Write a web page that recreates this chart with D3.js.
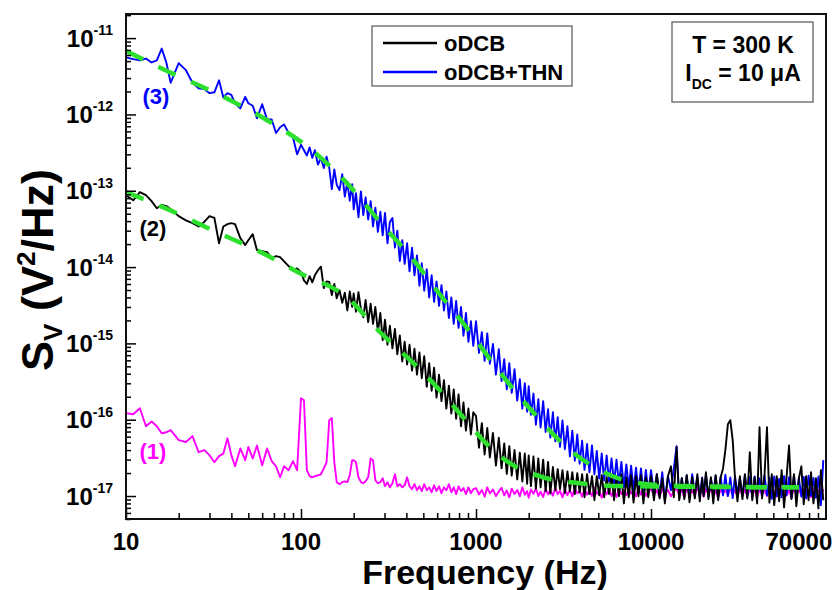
<!DOCTYPE html>
<html>
<head>
<meta charset="utf-8">
<script src="https://cdn.jsdelivr.net/npm/d3@7"></script>
<style>
body { margin: 0; background: #fff; }
svg { display: block; font-family: "Liberation Sans", Arial, sans-serif; font-weight: bold; }
</style>
</head>
<body>
<div id="chart"></div>
<script>
// frequency grid shared by the three measured spectra (Hz)
const freq = [
  10, 11, 12, 13, 14, 15, 16, 17, 18, 20,
  22, 24, 26, 28, 30, 32, 34, 36, 38, 40,
  42, 45, 48, 50, 53, 56, 60, 64, 68, 72,
  76, 80, 85, 90, 95,
  100, 104, 108, 112, 116, 120, 125, 130, 135, 140,
  145, 150, 155, 160, 166, 172, 178, 184, 190, 196,
  200, 206, 213, 220, 227, 234, 242, 250, 258, 266,
  275, 284, 293, 302, 312, 322, 333, 344, 355, 367,
  379, 391, 404, 417, 431, 445, 460, 475, 490, 506,
  523, 540, 558, 576, 595, 615, 635, 656, 677, 700,
  723, 746, 770, 795, 821, 848, 876, 905, 935, 965,
  1000, 1040, 1080, 1120, 1160, 1200, 1250, 1300, 1350, 1400,
  1450, 1500, 1550, 1600, 1660, 1720, 1780, 1840, 1900, 1960,
  2000, 2060, 2130, 2200, 2270, 2340, 2420, 2500, 2580, 2660,
  2750, 2840, 2930, 3020, 3120, 3220, 3330, 3440, 3550, 3670,
  3790, 3910, 4040, 4170, 4310, 4450, 4600, 4750, 4900, 5060,
  5230, 5400, 5580, 5760, 5950, 6150, 6350, 6560, 6770, 7000,
  7230, 7460, 7700, 7950, 8210, 8480, 8760, 9050, 9350, 9650,
  10000, 10400, 10800, 11200, 11600, 12000, 12500, 13000, 13500, 14000,
  14500, 15000, 15500, 16000, 16600, 17200, 17800, 18400, 19000, 19600,
  20000, 20600, 21300, 22000, 22700, 23400, 24200, 25000, 25800, 26600,
  27500, 28400, 29300, 30200, 31200, 32200, 33300, 34400, 35500, 36700,
  37900, 39100, 40400, 41700, 43100, 44500, 46000, 47500, 49000, 50600,
  52300, 54000, 55800, 57600, 59500, 61500, 63500, 65600, 67700, 70000,
  72300, 74600, 77000, 79500, 82100, 84800, 87600, 90500, 93500, 96500
];

// (2) oDCB
const svOdcb = [
  8.75e-14, 7.5e-14, 9.6e-14, 8.75e-14, 7.3e-14, 5.9e-14, 6.5e-14, 6.3e-14, 5.75e-14, 4.65e-14,
  4.1e-14, 3.76e-14, 3.4e-14, 3.9e-14, 4.65e-14, 4.4e-14, 2.05e-14, 3.4e-14, 3.65e-14, 3.76e-14,
  3.65e-14, 2.4e-14, 1.94e-14, 2.25e-14, 2.7e-14, 1.67e-14, 1.62e-14, 1.57e-14, 1.31e-14, 1.39e-14,
  1.35e-14, 1.19e-14, 1.03e-14, 9.1e-15, 9.6e-15,
  8.6e-15, 6.7e-15, 6.0e-15, 7.6e-15, 6.3e-15, 7.8e-15, 9.1e-15, 1.01e-14, 5.3e-15, 6.5e-15,
  6.4e-15, 4.3e-15, 6.0e-15, 3.9e-15, 5.0e-15, 3.4e-15, 4.6e-15, 2.7e-15, 4.8e-15, 3.0e-15,
  4.5e-15, 2.6e-15, 4.7e-15, 2.8e-15, 2.2e-15, 3.7e-15, 1.9e-15, 3.3e-15, 1.8e-15, 3.0e-15,
  1.42e-15, 2.5e-15, 1.1e-15, 2.05e-15, 9.6e-16, 1.7e-15, 8.6e-16, 1.55e-15, 7.2e-16, 1.27e-15,
  5.8e-16, 1.05e-15, 5.3e-16, 9.6e-16, 4.4e-16, 8.5e-16, 3.9e-16, 7.6e-16, 3.5e-16, 6.8e-16,
  2.7e-16, 5.5e-16, 2.4e-16, 4.8e-16, 1.95e-16, 3.9e-16, 1.75e-16, 3.3e-16, 1.4e-16, 2.8e-16,
  1.2e-16, 2.5e-16, 1.03e-16, 2.15e-16, 8.2e-17, 1.68e-16, 7.2e-17, 1.4e-16, 6.4e-17, 1.25e-16,
  1.12e-16, 4.3e-17, 9.0e-17, 3.5e-17, 7.8e-17, 3.2e-17, 6.7e-17, 2.5e-17, 5.8e-17, 2.3e-17,
  4.9e-17, 1.95e-17, 4.5e-17, 1.85e-17, 4.0e-17, 1.65e-17, 3.7e-17, 1.55e-17, 3.6e-17, 1.45e-17,
  3.4e-17, 1.35e-17, 3.3e-17, 1.25e-17, 3.1e-17, 1.3e-17, 3.0e-17, 1.15e-17, 2.8e-17, 1.08e-17,
  2.4e-17, 1.19e-17, 2.25e-17, 1.23e-17, 2.18e-17, 1.09e-17, 2.1e-17, 1.16e-17, 2.05e-17, 1.06e-17,
  1.99e-17, 1.12e-17, 1.93e-17, 9.65e-18, 1.93e-17, 1.06e-17, 1.82e-17, 8.8e-18, 1.82e-17, 1.02e-17,
  1.87e-17, 9.65e-18, 1.76e-17, 1.06e-17, 1.93e-17, 8.8e-18, 1.82e-17, 9.95e-18, 1.93e-17, 8.0e-18,
  1.76e-17, 9.65e-18, 1.87e-17, 8.2e-18, 1.82e-17, 9.95e-18, 1.87e-17, 8.0e-18, 1.76e-17, 9.65e-18,
  1.82e-17, 8.8e-18, 1.93e-17, 9.3e-18, 1.71e-17, 8.0e-18, 1.82e-17, 2.45e-17, 9.65e-18, 4.36e-17,
  8.8e-18, 1.71e-17, 9.1e-18, 1.87e-17, 8.3e-18, 1.76e-17, 9.3e-18, 1.93e-17, 8.5e-18, 1.71e-17,
  9.95e-18, 2.05e-17, 9.1e-18, 1.76e-17, 8.0e-18, 1.87e-17, 8.8e-18, 1.76e-17, 2.3e-17, 4.0e-17,
  8.7e-17, 9.85e-17, 5.4e-17, 1.71e-17, 8.5e-18, 1.82e-17, 9.1e-18, 1.93e-17, 9.3e-18, 3.75e-17,
  8.8e-18, 1.76e-17, 8.0e-18, 7.97e-17, 9.3e-18, 1.82e-17, 7.97e-17, 8.2e-18, 1.93e-17, 7.6e-18,
  1.82e-17, 8.5e-18, 2.18e-17, 7.1e-18, 1.76e-17, 4.6e-17, 9.1e-18, 1.93e-17, 7.35e-18, 1.71e-17,
  2.45e-17, 7.8e-18, 1.82e-17, 8.8e-18, 2.05e-17, 8.0e-18, 1.71e-17, 6.9e-18, 2.18e-17, 8.8e-18
];

// (3) oDCB+THN
const svThn = [
  5.6e-12, 5.3e-12, 5.1e-12, 5.4e-12, 4.8e-12, 5.1e-12, 7.3e-12, 4.8e-12, 2.6e-12, 4.7e-12,
  3.8e-12, 2.6e-12, 2.2e-12, 2.15e-12, 1.9e-12, 1.95e-12, 2.8e-12, 1.67e-12, 1.9e-12, 1.8e-12,
  1.4e-12, 1.2e-12, 1.7e-12, 1.4e-12, 1.3e-12, 8.9e-13, 1.36e-12, 8.6e-13, 8.6e-13, 5.7e-13,
  6.8e-13, 7.4e-13, 5.7e-13, 5.0e-13, 3.0e-13,
  4.0e-13, 3.4e-13, 2.9e-13, 3.7e-13, 2.7e-13, 3.4e-13, 2.2e-13, 2.7e-13, 1.98e-13, 2.8e-13,
  2.0e-13, 1.05e-13, 1.9e-13, 1.2e-13, 1.02e-13, 1.65e-13, 8.4e-14, 1.3e-13, 7.4e-14, 1.22e-13,
  5.7e-14, 9.3e-14, 4.5e-14, 9.8e-14, 4.8e-14, 8.2e-14, 4.2e-14, 7.3e-14, 3.4e-14, 6.0e-14,
  2.9e-14, 5.3e-14, 2.6e-14, 5.1e-14, 2.05e-14, 3.9e-14, 4.4e-14, 1.8e-14, 3.0e-14, 1.2e-14,
  2.25e-14, 1.1e-14, 2.05e-14, 8.8e-15, 1.8e-14, 7.8e-15, 1.42e-14, 5.7e-15, 1.12e-14, 4.9e-15,
  9.4e-15, 4.0e-15, 7.8e-15, 3.5e-15, 6.5e-15, 3.1e-15, 5.8e-15, 2.7e-15, 4.8e-15, 2.15e-15,
  4.0e-15, 1.8e-15, 3.6e-15, 1.6e-15, 3.0e-15, 1.26e-15, 2.5e-15, 1.05e-15, 1.95e-15, 9.3e-16,
  1.95e-15, 7.5e-16, 1.4e-15, 5.9e-16, 1.35e-15, 5.4e-16, 9.8e-16, 3.9e-16, 8.4e-16, 3.2e-16,
  6.2e-16, 2.5e-16, 5.5e-16, 2.25e-16, 4.6e-16, 1.78e-16, 3.4e-16, 1.4e-16, 3.0e-16, 1.27e-16,
  2.75e-16, 1.16e-16, 2.2e-16, 8.6e-17, 1.85e-16, 7.9e-17, 1.75e-16, 6.9e-17, 1.37e-16, 5.8e-17,
  1.25e-16, 5.2e-17, 1.08e-16, 4.4e-17, 9.8e-17, 4.1e-17, 8.2e-17, 3.3e-17, 7.2e-17, 2.9e-17,
  6.4e-17, 2.65e-17, 5.3e-17, 2.2e-17, 4.8e-17, 2.05e-17, 4.6e-17, 1.92e-17, 3.9e-17, 1.7e-17,
  3.6e-17, 1.6e-17, 3.4e-17, 1.55e-17, 3.1e-17, 1.48e-17, 3.0e-17, 1.42e-17, 2.8e-17, 1.3e-17,
  2.6e-17, 1.27e-17, 2.5e-17, 1.2e-17, 2.35e-17, 1.15e-17, 2.3e-17, 1.12e-17, 2.2e-17, 1.1e-17,
  2.18e-17, 1.12e-17, 1.93e-17, 1.02e-17, 2.05e-17, 8.8e-18, 1.82e-17, 1.19e-17, 2.3e-17, 4.5e-17,
  9.3e-18, 1.71e-17, 1.06e-17, 1.87e-17, 9.7e-18, 1.93e-17, 1.1e-17, 1.8e-17, 9.5e-18, 1.75e-17,
  1.05e-17, 1.9e-17, 9.8e-18, 1.7e-17, 1.08e-17, 1.85e-17, 9.6e-18, 1.78e-17, 1.02e-17, 1.9e-17,
  1.0e-17, 1.75e-17, 9.4e-18, 1.83e-17, 1.05e-17, 1.72e-17, 9.9e-18, 1.88e-17, 1.0e-17, 1.76e-17,
  9.5e-18, 1.8e-17, 1.04e-17, 1.7e-17, 9.7e-18, 1.86e-17, 1.02e-17, 1.74e-17, 9.2e-18, 1.8e-17,
  1.0e-17, 1.68e-17, 9.6e-18, 1.82e-17, 1.03e-17, 1.76e-17, 9.4e-18, 1.85e-17, 1.0e-17, 1.7e-17,
  9.8e-18, 1.78e-17, 9.3e-18, 1.84e-17, 1.01e-17, 1.72e-17, 9.5e-18, 1.8e-17, 7.6e-18, 2.95e-17
];

// (1) background
const svRef = [
  1.22e-16, 1.18e-16, 1.41e-16, 8.2e-17, 9.5e-17, 8.2e-17, 6.65e-17, 6.85e-17, 7.3e-17, 5.4e-17,
  5.1e-17, 6.1e-17, 3.75e-17, 4.0e-17, 3.43e-17, 2.77e-17, 3.33e-17, 3.6e-17, 5.7e-17, 3.43e-17,
  2.45e-17, 4.2e-17, 2.95e-17, 4.4e-17, 3.1e-17, 4.6e-17, 2.53e-17, 4.2e-17, 2.86e-17, 2.45e-17,
  1.76e-17, 2.45e-17, 2.18e-17, 2.86e-17, 2.18e-17,
  1.91e-16, 1.8e-16, 2.18e-17, 1.82e-17, 1.76e-17, 1.82e-17, 1.87e-17, 1.93e-17, 2.3e-17, 2.77e-17,
  9.85e-17, 1.05e-16, 2.77e-17, 1.52e-17, 1.43e-17, 1.52e-17, 1.56e-17, 1.52e-17, 1.87e-17, 2.95e-17,
  2.95e-17, 2.77e-17, 1.76e-17, 1.52e-17, 1.47e-17, 1.56e-17, 1.76e-17, 3.1e-17, 2.95e-17, 1.61e-17,
  1.47e-17, 1.52e-17, 1.71e-17, 1.34e-17, 1.52e-17, 1.3e-17, 1.47e-17, 1.93e-17, 1.34e-17, 1.43e-17,
  1.3e-17, 1.38e-17, 1.76e-17, 1.34e-17, 1.23e-17, 1.43e-17, 1.19e-17, 1.34e-17, 1.16e-17, 1.43e-17,
  1.19e-17, 1.3e-17, 1.12e-17, 1.38e-17, 1.16e-17, 1.34e-17, 1.09e-17, 1.3e-17, 1.19e-17, 1.43e-17,
  1.12e-17, 1.3e-17, 1.06e-17, 1.34e-17, 1.16e-17, 1.27e-17, 1.06e-17, 1.3e-17, 1.09e-17, 1.23e-17,
  1.27e-17, 1.05e-17, 1.2e-17, 9.8e-18, 1.3e-17, 1.08e-17, 1.22e-17, 1.0e-17, 1.15e-17, 1.28e-17,
  1.02e-17, 1.18e-17, 9.6e-18, 1.25e-17, 1.06e-17, 1.2e-17, 9.9e-18, 1.3e-17, 1.04e-17, 1.16e-17,
  9.5e-18, 1.22e-17, 1.07e-17, 1.26e-17, 1.0e-17, 1.14e-17, 9.7e-18, 1.24e-17, 1.05e-17, 1.19e-17,
  1.01e-17, 1.28e-17, 1.06e-17, 1.17e-17, 9.6e-18, 1.23e-17, 1.03e-17, 1.2e-17, 9.9e-18, 1.27e-17,
  1.08e-17, 1.16e-17, 9.8e-18, 1.24e-17, 1.04e-17, 1.19e-17, 1.0e-17, 1.29e-17, 1.07e-17, 1.15e-17,
  9.5e-18, 1.22e-17, 1.05e-17, 1.25e-17, 1.0e-17, 1.18e-17, 9.7e-18, 1.26e-17, 1.06e-17, 1.2e-17,
  1.02e-17, 1.24e-17, 1.08e-17, 1.17e-17, 9.9e-18, 1.28e-17, 1.04e-17, 1.21e-17, 1.0e-17, 1.16e-17,
  1.24e-17, 1.02e-17, 1.19e-17, 9.7e-18, 1.27e-17, 1.05e-17, 1.2e-17, 9.9e-18, 1.15e-17, 1.26e-17,
  1.03e-17, 1.21e-17, 9.6e-18, 1.25e-17, 1.07e-17, 1.18e-17, 1.0e-17, 1.3e-17, 1.06e-17, 1.22e-17,
  9.8e-18, 1.24e-17, 1.04e-17, 1.28e-17, 1.01e-17, 1.16e-17, 9.5e-18, 1.23e-17, 1.08e-17, 1.2e-17,
  1.02e-17, 1.27e-17, 1.05e-17, 1.19e-17, 9.7e-18, 1.25e-17, 1.03e-17, 1.21e-17, 9.9e-18, 1.26e-17,
  1.06e-17, 1.18e-17, 9.6e-18, 1.24e-17, 1.04e-17, 1.2e-17, 1.0e-17, 1.28e-17, 1.07e-17, 1.17e-17,
  9.8e-18, 1.22e-17, 1.05e-17, 1.25e-17, 1.01e-17, 1.19e-17, 9.6e-18, 1.27e-17, 1.06e-17, 1.21e-17,
  1.03e-17, 1.24e-17, 1.08e-17, 1.18e-17, 9.7e-18, 1.26e-17, 1.04e-17, 1.2e-17, 1.0e-17, 1.23e-17
];

// fitted curves (green dashed)
const fitThnFreq = [10, 16, 36, 64, 112, 183, 294, 431, 607, 889, 1340, 2120, 3440, 5110, 7890, 14700, 70000];
const fitThnVal = [6.8e-12, 4.0e-12, 1.7e-12, 8.4e-13, 3.6e-13, 1.26e-13, 3.5e-14, 1.31e-14, 4.7e-15, 1.58e-15, 4.45e-16, 1.25e-16, 4.0e-17, 2.18e-17, 1.52e-17, 1.35e-17, 1.3e-17];
const fitOdcbFreq = [10, 17.8, 33.1, 56.1, 98.7, 183, 283, 409, 598, 843, 1200, 1560, 2420, 3930, 6650, 70000];
const fitOdcbVal = [9.6e-14, 5.57e-14, 2.86e-14, 1.66e-14, 8.3e-15, 4.03e-15, 1.4e-15, 6.4e-16, 2.67e-16, 1.08e-16, 4.37e-17, 2.69e-17, 1.76e-17, 1.47e-17, 1.35e-17, 1.3e-17];

const seriesNames = ["oDCB", "oDCB+THN"];
const xTickLabels = [10, 100, 1000, 10000, 70000];
const yMajor = [1e-11, 1e-12, 1e-13, 1e-14, 1e-15, 1e-16, 1e-17];
const yExp = ["-11", "-12", "-13", "-14", "-15", "-16", "-17"];

const width = 834;
const height = 590;
const plot = { left: 126, right: 826, top: 14, bottom: 519 };

const svg = d3.select("#chart").append("svg")
	.attr("width", width)
	.attr("height", height);

const x = d3.scaleLog().domain([10, 1e5]).range([plot.left, plot.right]);
const y = d3.scaleLog().domain([5e-18, 2.07e-11]).range([plot.bottom, plot.top]);

svg.append("defs").append("clipPath").attr("id", "clip")
	.append("rect")
	.attr("x", plot.left).attr("y", plot.top)
	.attr("width", plot.right - plot.left).attr("height", plot.bottom - plot.top);

const line = d3.line().x(d => x(d[0])).y(d => y(d[1]));
const smooth = d3.line().x(d => x(d[0])).y(d => y(d[1])).curve(d3.curveMonotoneX);

const plotArea = svg.append("g").attr("clip-path", "url(#clip)");

const traces = [
	{ values: svRef, color: "#ff00ff" },
	{ values: svThn, color: "#0000ff" },
	{ values: svOdcb, color: "#000000" }
];

traces.forEach(t => {
	plotArea.append("path")
		.datum(freq.map((f, i) => [f, t.values[i]]))
		.attr("fill", "none")
		.attr("stroke", t.color)
		.attr("stroke-width", 1.9)
		.attr("stroke-linejoin", "round")
		.attr("d", line);
});

[[fitThnFreq, fitThnVal], [fitOdcbFreq, fitOdcbVal]].forEach(([fs, vs]) => {
	plotArea.append("path")
		.datum(fs.map((f, i) => [f, vs[i]]))
		.attr("fill", "none")
		.attr("stroke", "#2ee02e")
		.attr("stroke-width", 4.5)
		.attr("stroke-dasharray", "19,17")
		.attr("d", smooth);
});

// ticks (inward)
const isDecade = v => Math.abs(Math.log10(v) - Math.round(Math.log10(v))) < 1e-6;

const xMinor = x.ticks().filter(v => !isDecade(v));
const yMinor = y.ticks().filter(v => !isDecade(v));

svg.append("g")
	.attr("transform", `translate(0,${plot.bottom})`)
	.call(d3.axisBottom(x).tickValues([10, 100, 1000, 10000]).tickSize(-10).tickFormat(""))
	.call(g => g.select(".domain").remove())
	.call(g => g.selectAll("line").attr("stroke-width", 1.5));

svg.append("g")
	.attr("transform", `translate(0,${plot.bottom})`)
	.call(d3.axisBottom(x).tickValues(xMinor).tickSize(-6).tickFormat(""))
	.call(g => g.select(".domain").remove())
	.call(g => g.selectAll("line").attr("stroke-width", 1.5));

svg.append("g")
	.attr("transform", `translate(${plot.left},0)`)
	.call(d3.axisLeft(y).tickValues(yMajor).tickSize(-10).tickFormat(""))
	.call(g => g.select(".domain").remove())
	.call(g => g.selectAll("line").attr("stroke-width", 1.5));

svg.append("g")
	.attr("transform", `translate(${plot.left},0)`)
	.call(d3.axisLeft(y).tickValues(yMinor).tickSize(-5).tickFormat(""))
	.call(g => g.select(".domain").remove())
	.call(g => g.selectAll("line").attr("stroke-width", 1.5));

// frame
svg.append("rect")
	.attr("x", plot.left).attr("y", plot.top)
	.attr("width", plot.right - plot.left).attr("height", plot.bottom - plot.top)
	.attr("fill", "none")
	.attr("stroke", "#111")
	.attr("stroke-width", 2);

// tick labels
svg.append("g").selectAll("text")
	.data(xTickLabels)
	.join("text")
	.attr("x", d => x(d))
	.attr("y", 550)
	.attr("text-anchor", "middle")
	.style("font-size", "24px")
	.text(d => d);

const yLab = svg.append("g").selectAll("text")
	.data(yMajor)
	.join("text")
	.attr("x", 113)
	.attr("y", d => y(d) + 8.5)
	.attr("text-anchor", "end")
	.style("font-size", "24px");
yLab.append("tspan").text("10");
yLab.append("tspan")
	.attr("dy", -11.5)
	.style("font-size", "14px")
	.text((d, i) => yExp[i]);

// axis titles
svg.append("text")
	.attr("x", 485)
	.attr("y", 584)
	.attr("text-anchor", "middle")
	.style("font-size", "34px")
	.text("Frequency (Hz)");

const yTitle = svg.append("text")
	.attr("transform", "translate(53,270) rotate(-90)")
	.attr("text-anchor", "middle")
	.style("font-size", "45px");
yTitle.append("tspan").text("S");
yTitle.append("tspan").attr("dy", 9).style("font-size", "26px").text("V");
yTitle.append("tspan").attr("dy", -9).text(" (V");
yTitle.append("tspan").attr("dy", -18).style("font-size", "26px").text("2");
yTitle.append("tspan").attr("dy", 18).text("/Hz)");

// legend
const legend = svg.append("g");
legend.append("rect")
	.attr("x", 372).attr("y", 26).attr("width", 200).attr("height", 60)
	.attr("fill", "#fff").attr("stroke", "#555").attr("stroke-width", 1.2);
[["#000000", 43], ["#0000ff", 72]].forEach(([c, ly], i) => {
	legend.append("line")
		.attr("x1", 383).attr("x2", 437).attr("y1", ly).attr("y2", ly)
		.attr("stroke", c).attr("stroke-width", 2.5);
	legend.append("text")
		.attr("x", 444).attr("y", ly + 8)
		.style("font-size", "22px")
		.text(seriesNames[i]);
});

// condition box
const info = svg.append("g");
info.append("rect")
	.attr("x", 672).attr("y", 22).attr("width", 141).attr("height", 80)
	.attr("fill", "#fff").attr("stroke", "#555").attr("stroke-width", 1.2);
info.append("text")
	.attr("x", 743).attr("y", 53)
	.attr("text-anchor", "middle")
	.style("font-size", "23px")
	.text("T = 300 K");
const idc = info.append("text")
	.attr("x", 743).attr("y", 81)
	.attr("text-anchor", "middle")
	.style("font-size", "23px");
idc.append("tspan").text("I");
idc.append("tspan").attr("dy", 8).style("font-size", "14px").text("DC");
idc.append("tspan").attr("dy", -8).text(" = 10 μA");

// curve labels
[["(3)", 156, 104, "#0000ff"], ["(2)", 153, 236, "#000000"], ["(1)", 153, 459, "#ff00ff"]].forEach(([t, lx, ly, c]) => {
	svg.append("text")
		.attr("x", lx).attr("y", ly)
		.attr("text-anchor", "middle")
		.attr("fill", c)
		.style("font-size", "22px")
		.text(t);
});
</script>
</body>
</html>
